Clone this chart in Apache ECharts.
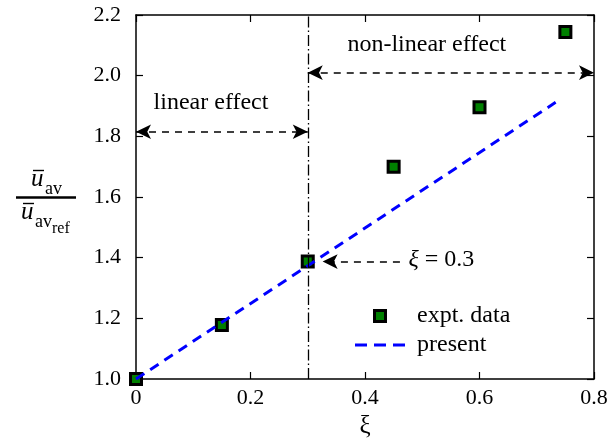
<!DOCTYPE html>
<html><head><meta charset="utf-8">
<script src="https://cdn.jsdelivr.net/npm/echarts@6/dist/echarts.min.js"></script>
<style>html,body{margin:0;padding:0;background:#fff}#c{width:608px;height:444px}</style>
</head><body><div id="c"></div>
<script>
// ---- data ----
const xi = [0, 0.15, 0.30, 0.45, 0.60, 0.75];
const expt = [1.00, 1.178, 1.387, 1.700, 1.896, 2.144];
const presentXi = [0, 0.733];
const presentVal = [1.00, 1.912];
const xRange = [0, 0.8];
const yRange = [1.0, 2.2];
const xStep = 0.2, yStep = 0.2;
const seriesNames = ['expt. data', 'present'];
const xiCritical = 0.3;
const linearArrowY = 1.815;
const nonlinearArrowY = 2.01;
const xiArrow = { from: 0.461, to: 0.326, y: 1.387 };
const annotTexts = [
  { text: 'linear effect', at: [0.131, 1.912], align: 'center' },
  { text: 'non-linear effect', at: [0.508, 2.103], align: 'center' },
  { text: '{i|ξ} = 0.3', at: [0.476, 1.392], align: 'left' }
];

const FONT = 'Liberation Serif';
const chart = echarts.init(document.getElementById('c'), null, { renderer: 'canvas' });

const tickStyle = { inside: true, length: 7, lineStyle: { color: '#000', width: 1.2 } };
const lineStyleAxis = { show: true, onZero: false, lineStyle: { color: '#000', width: 1.5 } };
const dashBlack = { color: '#000', width: 1.5, type: [7, 6] };

const option = {
  animation: false,
  backgroundColor: '#fff',
  grid: { left: 136, right: 14, top: 15, bottom: 65, outerBoundsMode: 'none', containLabel: false },
  legend: {
    data: [
      { name: seriesNames[0], icon: 'path://M0,0H10V10H0Z', itemStyle: { color: '#008000', borderColor: '#000', borderWidth: 3 } },
      { name: seriesNames[1], icon: 'path://M0,0H12V3H0Z M19,0H31V3H19Z M38,0H50V3H38Z', itemStyle: { color: '#0000ff', borderWidth: 0 } }
    ],
    orient: 'vertical',
    left: 355, top: 304,
    itemWidth: 50, itemHeight: 11, itemGap: 5,
    padding: 0,
    textStyle: { fontFamily: FONT, fontSize: 24, color: '#000', padding: [0, 0, 0, 7] }
  },
  xAxis: [
    {
      type: 'value', min: xRange[0], max: xRange[1], interval: xStep, position: 'bottom',
      axisLine: lineStyleAxis, axisTick: tickStyle, splitLine: { show: false },
      axisLabel: { formatter: v => v === 0 ? '0' : v.toFixed(1), fontFamily: FONT, fontSize: 22, color: '#000', margin: 8 },
      name: 'ξ', nameLocation: 'middle', nameGap: 31,
      nameTextStyle: { fontFamily: FONT, fontSize: 25, color: '#000' }
    },
    {
      type: 'value', min: xRange[0], max: xRange[1], interval: xStep, position: 'top',
      axisLine: lineStyleAxis, axisTick: tickStyle, splitLine: { show: false }, axisLabel: { show: false }
    }
  ],
  yAxis: [
    {
      type: 'value', min: yRange[0], max: yRange[1], interval: yStep, position: 'left',
      axisLine: lineStyleAxis, axisTick: tickStyle, splitLine: { show: false },
      axisLabel: { formatter: v => v.toFixed(1), fontFamily: FONT, fontSize: 22, color: '#000', margin: 15 }
    },
    {
      type: 'value', min: yRange[0], max: yRange[1], interval: yStep, position: 'right',
      axisLine: lineStyleAxis, axisTick: tickStyle, splitLine: { show: false }, axisLabel: { show: false }
    }
  ],
  series: [
    {
      name: 'annot', type: 'line', data: [], silent: true, z: 1,
      markLine: {
        silent: true, animation: false,
        symbol: ['arrow', 'arrow'], symbolSize: [11, 15],
        label: { show: false },
        lineStyle: dashBlack,
        data: [
          [{ coord: [xiCritical, yRange[0]], symbol: 'none', lineStyle: { color: '#000', width: 1.3, type: [11, 3, 1.5, 3] } },
           { coord: [xiCritical, yRange[1]], symbol: 'none' }],
          [{ coord: [xRange[0], linearArrowY] }, { coord: [xiCritical, linearArrowY] }],
          [{ coord: [xiCritical, nonlinearArrowY] }, { coord: [xRange[1], nonlinearArrowY] }],
          [{ coord: [xiArrow.from, xiArrow.y], symbol: 'none' }, { coord: [xiArrow.to, xiArrow.y], symbol: 'arrow' }]
        ]
      }
    },
    {
      name: seriesNames[0], type: 'scatter', z: 3,
      data: xi.map((x, i) => [x, expt[i]]),
      symbol: 'rect', symbolSize: 11,
      itemStyle: { color: '#008000', borderColor: '#000', borderWidth: 3, opacity: 1 }
    },
    {
      name: seriesNames[1], type: 'line', z: 4,
      data: presentXi.map((x, i) => [x, presentVal[i]]),
      symbol: 'none',
      lineStyle: { color: '#0000ff', width: 3, type: [10, 7] },
      itemStyle: { color: '#0000ff' }
    }
  ]
};
chart.setOption(option);

// annotation texts placed through the chart's own scales
const graphics = annotTexts.map(a => {
  const p = chart.convertToPixel({ gridIndex: 0 }, a.at);
  return {
    type: 'text', x: p[0], y: p[1], silent: true,
    style: {
      text: a.text, fontFamily: FONT, fontSize: 24, fill: '#000',
      align: a.align, verticalAlign: 'middle',
      rich: { i: { fontFamily: FONT, fontSize: 24, fontStyle: 'italic', fill: '#000' } }
    }
  };
});

// y-axis label: fraction  ū_av / ū_av,ref
const mid = (baseline, fs) => baseline - 0.34 * fs;
function t(text, x, baseline, fs, italic) {
  return { type: 'text', silent: true, x, y: mid(baseline, fs),
    style: { text, fontFamily: FONT, fontSize: fs, fontStyle: italic ? 'italic' : 'normal', fill: '#000', align: 'left', verticalAlign: 'middle' } };
}
function bar(x1, x2, y, h) {
  return { type: 'rect', silent: true, shape: { x: x1, y: y - h / 2, width: x2 - x1, height: h }, style: { fill: '#000' } };
}
const yLabelParts = [
  t('u', 31, 188, 25, true),
  bar(33, 44, 170.5, 1.4),
  t('av', 45, 195, 18, false),
  bar(16, 76, 197.5, 2.5),
  t('u', 21, 221, 25, true),
  bar(23, 34, 203.5, 1.4),
  t('av', 35, 228, 18, false),
  t('ref', 52, 234, 16, false)
];

chart.setOption({ graphic: graphics.concat(yLabelParts) });
</script>
</body></html>
